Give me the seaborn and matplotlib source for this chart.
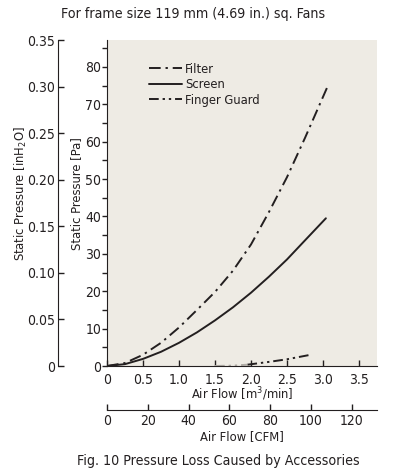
import numpy as np
import pandas as pd
import matplotlib
matplotlib.use('Agg')
import matplotlib.pyplot as plt
import seaborn as sns

# --- datos ---
filter_flow = [0, 0.25, 0.5, 0.75, 1.0, 1.25, 1.5, 1.75, 2.0, 2.25, 2.5, 2.75, 3.06]
filter_pa = [0, 0.8, 3.0, 6.2, 10.3, 15.0, 19.8, 25.5, 32.5, 41.2, 50.5, 61.0, 74.6]

screen_flow = [0, 0.25, 0.5, 0.75, 1.0, 1.25, 1.5, 1.75, 2.0, 2.25, 2.5, 2.75, 3.04]
screen_pa = [0, 0.5, 1.9, 3.8, 6.2, 9.0, 12.2, 15.7, 19.6, 23.9, 28.5, 33.6, 39.5]

guard_faint_flow = [1.5, 1.75, 1.95]
guard_faint_pa = [0.0, 0.1, 0.35]
guard_flow = [1.95, 2.25, 2.5, 2.8]
guard_pa = [0.35, 1.1, 1.8, 2.9]

x_ticks = [0, 0.5, 1.0, 1.5, 2.0, 2.5, 3.0, 3.5]
x_labels = ['0', '0.5', '1.0', '1.5', '2.0', '2.5', '3.0', '3.5']
pa_ticks = [0, 10, 20, 30, 40, 50, 60, 70, 80]
inh2o_ticks = [0, 0.05, 0.10, 0.15, 0.20, 0.25, 0.30, 0.35]
inh2o_labels = ['0', '0.05', '0.10', '0.15', '0.20', '0.25', '0.30', '0.35']
cfm_ticks = [0, 20, 40, 60, 80, 100, 120]

PA_PER_INH2O = 249.09
CFM_PER_M3 = 35.31

sns.set_style('ticks')
plt.rcParams['font.family'] = ['DejaVu Sans']
plt.rcParams['font.stretch'] = 'condensed'
plt.rcParams['font.size'] = 10
ink = '#231f20'
plt.rcParams['text.color'] = ink
plt.rcParams['axes.labelcolor'] = ink
plt.rcParams['xtick.color'] = ink
plt.rcParams['ytick.color'] = ink
plt.rcParams['axes.edgecolor'] = ink
plt.rcParams['axes.labelsize'] = 9.3

fig = plt.figure(figsize=(3.94, 4.75), dpi=100)
ax = fig.add_axes([107 / 394, 1 - 366 / 475, 270 / 394, 326 / 475])
ax.set_facecolor('#eeebe4')

sns.lineplot(x=filter_flow, y=filter_pa, ax=ax, color=ink, lw=1.4,
             linestyle=(0, (6, 2.5, 1.2, 2.5)), label='Filter')
sns.lineplot(x=screen_flow, y=screen_pa, ax=ax, color=ink, lw=1.4, label='Screen')
sns.lineplot(x=guard_flow, y=guard_pa, ax=ax, color=ink, lw=1.4,
             linestyle=(0, (5, 2, 1.2, 2, 1.2, 2)), label='Finger Guard')
sns.lineplot(x=guard_faint_flow, y=guard_faint_pa, ax=ax, color='#b0aca6', lw=1.4,
             linestyle=(0, (5, 2, 1.2, 2, 1.2, 2)), legend=False)

ax.set_xlim(0, 3.75)
ax.set_ylim(0, 0.35 * PA_PER_INH2O)
sns.despine(ax=ax)

ax.set_xticks(x_ticks, x_labels)
ax.set_yticks(pa_ticks)
ax.set_yticks(np.arange(5, 90, 10), minor=True)
ax.tick_params(axis='x', direction='in', length=4, width=1, pad=5)
ax.tick_params(axis='y', which='both', direction='out', length=3.5, width=1, pad=0.5)
ax.set_xlabel('Air Flow [m$^3$/min]', labelpad=-1)
ax.set_ylabel('Static Pressure [Pa]')
ax.yaxis.set_label_coords(-0.089, 0.53)

# eje secundario en inH2O
ax_in = ax.secondary_yaxis(-49 / 270, functions=(lambda p: p / PA_PER_INH2O,
                                                 lambda i: i * PA_PER_INH2O))
ax_in.set_yticks(inh2o_ticks, inh2o_labels)
ax_in.tick_params(direction='in', length=4, width=1, pad=2)
ax_in.set_ylabel('Static Pressure [inH$_2$O]')
ax_in.yaxis.set_label_coords(-78 / 270, 0.53, transform=ax.transAxes)

# eje secundario en CFM
ax_cfm = ax.secondary_xaxis(-44 / 326, functions=(lambda m: m * CFM_PER_M3,
                                                  lambda c: c / CFM_PER_M3))
ax_cfm.set_xticks(cfm_ticks)
ax_cfm.tick_params(direction='in', length=4, width=1, pad=3)
ax_cfm.set_xlabel('Air Flow [CFM]', labelpad=1)

ax.legend(loc='upper left', bbox_to_anchor=(0.123, 0.958), frameon=False, fontsize=9.3,
          handlelength=2.5, handletextpad=0.25, labelspacing=0.2, borderpad=0.2)

fig.text(0.491, 1 - 14 / 475, 'For frame size 119 mm (4.69 in.) sq. Fans',
         ha='center', va='center', fontsize=10.2)
fig.text(0.555, 1 - 461 / 475, 'Fig. 10 Pressure Loss Caused by Accessories',
         ha='center', va='center', fontsize=10.2)

fig.savefig('out.png', dpi=100)
